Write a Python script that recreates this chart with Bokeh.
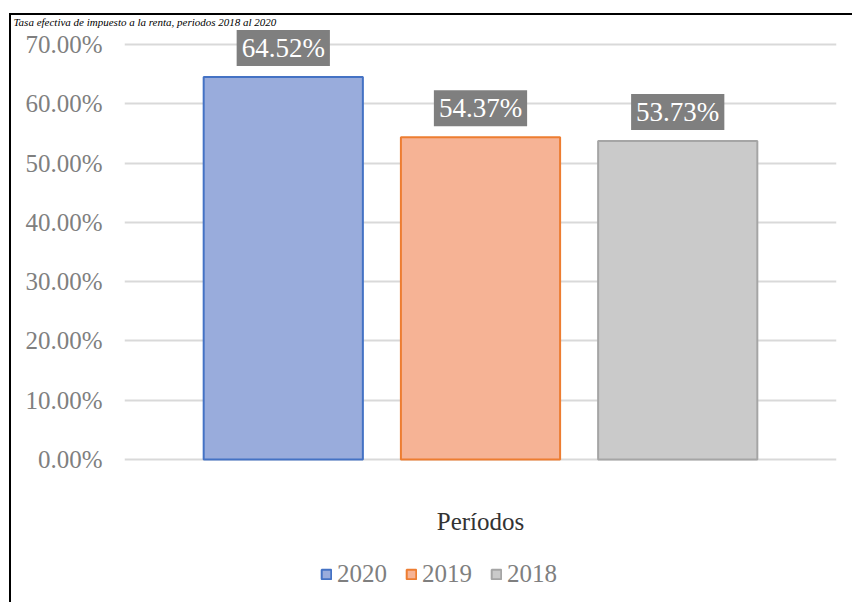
from bokeh.plotting import figure
from bokeh.models import (Range1d, FactorRange, ColumnDataSource, Legend, LegendItem,
                          Label, FixedTicker, NumeralTickFormatter)
from bokeh.transform import dodge
from bokeh.embed import file_html
from bokeh.resources import INLINE

# ---- data ----
title_text = "Tasa efectiva de impuesto a la renta, periodos 2018 al 2020"
category = ["Períodos"]
periods = ["2020", "2019", "2018"]
rates = [0.6452, 0.5437, 0.5373]
rate_labels = ["64.52%", "54.37%", "53.73%"]
y_ticks = [0.0, 0.1, 0.2, 0.3, 0.4, 0.5, 0.6, 0.7]

# ---- styles ----
fills = ["#99acdc", "#f6b395", "#cacaca"]
edges = ["#4472c4", "#ed7d31", "#a5a5a5"]
offsets = [-0.277, 0.0, 0.277]
bar_width = 0.2236
FONT = "Liberation Serif"

# frame runs to the canvas bottom so the legend can sit inside it; the
# category axis is pinned at y = 0 with fixed_location
p = figure(width=852, height=602, output_backend="svg", toolbar_location=None,
           x_range=FactorRange(*category, range_padding=0), y_range=Range1d(-0.2412, 0.7253),
           min_border_left=124, min_border_right=16, min_border_top=29, min_border_bottom=0)
p.outline_line_color = None
p.background_fill_color = None
p.border_fill_color = None
p.styles = {
    "background-color": "white",
    "background-image": "linear-gradient(#000, #000), linear-gradient(#000, #000)",
    "background-size": "2px 2000px, 2000px 2px",
    "background-position": "9px 13px, 9px 13px",
    "background-repeat": "no-repeat",
}

p.title.text = title_text
p.title.text_font = FONT
p.title.text_font_style = "italic"
p.title.text_font_size = "11px"
p.title.text_color = "black"
p.title.vertical_align = "top"
p.title.offset = -111
p.title.standoff = 0

items = []
for i, per in enumerate(periods):
    src = ColumnDataSource(dict(cat=category, rate=[rates[i]]))
    r = p.vbar(x=dodge("cat", offsets[i], range=p.x_range), top="rate", width=bar_width,
               source=src, fill_color=fills[i], line_color=edges[i], line_width=2)
    items.append(LegendItem(label=per, renderers=[r]))
    p.add_layout(Label(x=0.5 + offsets[i], y=rates[i], text=rate_labels[i],
                       text_align="center", text_baseline="bottom", y_offset=11,
                       text_font=FONT, text_font_size="27px", text_color="white",
                       background_fill_color="#7f7f7f", padding=[5, 3]))

# axes
p.yaxis.ticker = FixedTicker(ticks=y_ticks)
p.yaxis.formatter = NumeralTickFormatter(format="0.00%")
p.yaxis.axis_line_color = None
p.yaxis.major_tick_line_color = None
p.yaxis.major_tick_out = 0
p.yaxis.major_tick_in = 0
p.yaxis.minor_tick_line_color = None
p.yaxis.major_label_standoff = 22
p.yaxis.major_label_text_font = FONT
p.yaxis.major_label_text_font_size = "25px"
p.yaxis.major_label_text_color = "#7f7f7f"

p.xaxis.fixed_location = 0
p.xaxis.axis_line_color = None
p.xaxis.major_tick_line_color = None
p.xaxis.major_tick_out = 0
p.xaxis.major_tick_in = 0
p.xaxis.minor_tick_line_color = None
p.xaxis.major_label_standoff = 48
p.xaxis.major_label_text_font = FONT
p.xaxis.major_label_text_font_size = "25px"
p.xaxis.major_label_text_color = "#333333"

p.xgrid.grid_line_color = None
p.ygrid.grid_line_color = "#d9d9d9"
p.ygrid.grid_line_width = 2

legend = Legend(items=items, orientation="horizontal", location=(196, 14),
                glyph_width=12, glyph_height=12, label_standoff=5, spacing=18,
                padding=0, margin=0, border_line_color=None, background_fill_alpha=0,
                label_text_font=FONT, label_text_font_size="25px", label_text_color="#7f7f7f")
p.add_layout(legend, "center")

open("out.html", "w").write(file_html(p, INLINE))
